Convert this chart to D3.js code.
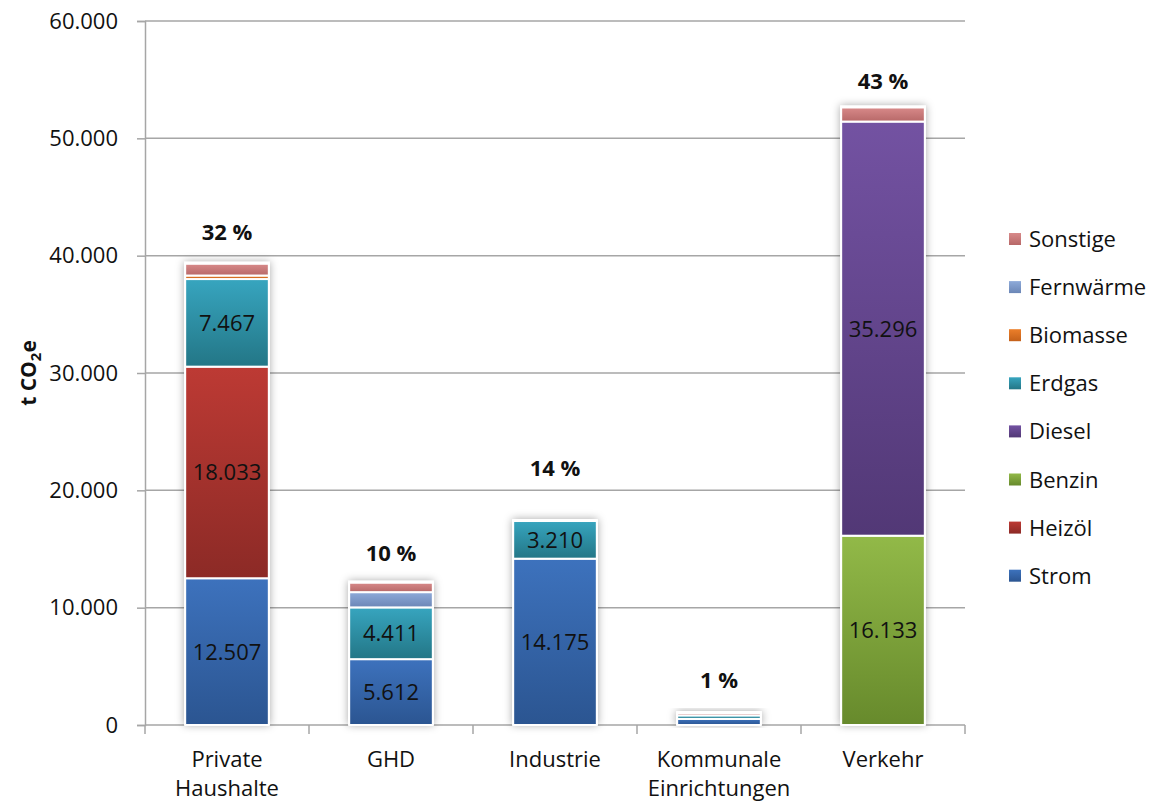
<!DOCTYPE html>
<html><head><meta charset="utf-8">
<script src="https://cdn.jsdelivr.net/npm/d3@7"></script>
<style>body{margin:0;background:#fff;font-family:"Open Sans",Calibri,sans-serif;}</style>
</head><body><svg id="c" width="1162" height="806"></svg>
<script>
const categories = ["Private Haushalte","GHD","Industrie","Kommunale Einrichtungen","Verkehr"];
const categoryLines = [["Private","Haushalte"],["GHD"],["Industrie"],["Kommunale","Einrichtungen"],["Verkehr"]];
const seriesNames = ["Strom","Heizöl","Benzin","Diesel","Erdgas","Biomasse","Fernwärme","Sonstige"];
const strom     = [12507, 5612, 14175, 520, 0];
const heizoel   = [18033, 0, 0, 0, 0];
const benzin    = [0, 0, 0, 0, 16133];
const diesel    = [0, 0, 0, 0, 35296];
const erdgas    = [7467, 4411, 3210, 300, 0];
const biomasse  = [300, 0, 0, 0, 0];
const fernwaerme= [0, 1300, 0, 0, 0];
const sonstige  = [1000, 800, 0, 200, 1200];
const percentLabels = ["32 %","10 %","14 %","1 %","43 %"];
const percentLabelY = [42000, 14650, 21900, 3850, 54900];
const legendOrder = ["Sonstige","Fernwärme","Biomasse","Erdgas","Diesel","Benzin","Heizöl","Strom"];
const yTicks = [0,10000,20000,30000,40000,50000,60000];
const showValues = ["Strom","Heizöl","Benzin","Diesel","Erdgas"];

const colors = {
  "Strom":["#3d72bd","#2b5591"],
  "Heizöl":["#bd3a34","#8c2a26"],
  "Benzin":["#92b948","#678a2c"],
  "Diesel":["#7352a2","#523876"],
  "Erdgas":["#37a5bf","#237686"],
  "Biomasse":["#ec7f2a","#c4611a"],
  "Fernwärme":["#8eaad9","#6b86b6"],
  "Sonstige":["#d88a8a","#b76868"]
};
const seriesData = {"Strom":strom,"Heizöl":heizoel,"Benzin":benzin,"Diesel":diesel,"Erdgas":erdgas,"Biomasse":biomasse,"Fernwärme":fernwaerme,"Sonstige":sonstige};
const FS = 22;

const svg = d3.select("#c");
const defs = svg.append("defs");
seriesNames.forEach((s,i)=>{
  const g = defs.append("linearGradient").attr("id","g"+i).attr("x1",0).attr("y1",0).attr("x2",0).attr("y2",1);
  g.append("stop").attr("offset","0%").attr("stop-color",colors[s][0]);
  g.append("stop").attr("offset","100%").attr("stop-color",colors[s][1]);
});
const f = defs.append("filter").attr("id","sh").attr("x","-20%").attr("y","-20%").attr("width","140%").attr("height","140%");
f.append("feDropShadow").attr("dx",0).attr("dy",0).attr("stdDeviation",4).attr("flood-color","#000").attr("flood-opacity",0.35);

const pLeft=145, pRight=965, pTop=21, pBottom=725;
const x = d3.scaleBand().domain(categories).range([pLeft,pRight]).paddingInner(0.49).paddingOuter(0.245);
const y = d3.scaleLinear().domain([0,60000]).range([pBottom,pTop]);

svg.append("g").selectAll("line").data(yTicks.slice(1)).join("line")
  .attr("x1",pLeft).attr("x2",pRight).attr("y1",d=>y(d)).attr("y2",d=>y(d))
  .attr("stroke","#a6a6a6").attr("stroke-width",1.5);

const yAxis = d3.axisLeft(y).tickValues(yTicks).tickSize(8).tickPadding(19)
  .tickFormat(d=>d3.format(",")(d).replace(/,/g,"."));
const ya = svg.append("g").attr("transform",`translate(${pLeft},0)`).call(yAxis);
ya.select(".domain").attr("stroke","#a6a6a6").attr("stroke-width",1.5);
ya.selectAll(".tick line").attr("stroke","#a6a6a6").attr("stroke-width",1.5);
ya.selectAll("text").attr("font-size",FS).attr("fill","#111").attr("font-family","'Open Sans',sans-serif");

svg.append("line").attr("x1",pLeft).attr("x2",pRight).attr("y1",pBottom).attr("y2",pBottom).attr("stroke","#a6a6a6").attr("stroke-width",1.5);
const tickXs = d3.range(categories.length+1).map(i=>pLeft+i*(pRight-pLeft)/categories.length);
svg.append("g").selectAll("line").data(tickXs).join("line")
  .attr("x1",d=>d).attr("x2",d=>d).attr("y1",pBottom).attr("y2",pBottom+9).attr("stroke","#a6a6a6").attr("stroke-width",1.5);
categories.forEach((c,i)=>{
  const t = svg.append("text").attr("x",x(c)+x.bandwidth()/2).attr("y",767).attr("text-anchor","middle")
    .attr("font-size",FS).attr("fill","#111");
  categoryLines[i].forEach((ln,j)=>t.append("tspan").attr("x",x(c)+x.bandwidth()/2).attr("dy",j?29:0).text(ln));
});

const table = categories.map((c,i)=>{const o={cat:c}; seriesNames.forEach(s=>o[s]=seriesData[s][i]); return o;});
const stack = d3.stack().keys(seriesNames)(table);

const totals = table.map(r=>d3.sum(seriesNames,s=>r[s]));
svg.append("g").selectAll("rect").data(table).join("rect")
  .attr("x",d=>x(d.cat)-1).attr("width",x.bandwidth()+2)
  .attr("y",(d,i)=>y(totals[i])-2).attr("height",(d,i)=>y(0)-y(totals[i])+2)
  .attr("fill","#fff").attr("filter","url(#sh)");

stack.forEach((layer,si)=>{
  svg.append("g").selectAll("rect").data(layer.filter(d=>d[1]-d[0]>0)).join("rect")
    .attr("x",d=>x(d.data.cat)).attr("width",x.bandwidth())
    .attr("y",d=>y(d[1])).attr("height",d=>y(d[0])-y(d[1]))
    .attr("fill",`url(#g${si})`).attr("stroke","#fff").attr("stroke-width",2);
});
stack.forEach((layer,si)=>{
  if(!showValues.includes(layer.key)) return;
  svg.append("g").selectAll("text").data(layer.filter(d=>d[1]-d[0]>2000)).join("text")
    .attr("x",d=>x(d.data.cat)+x.bandwidth()/2).attr("y",d=>y((d[0]+d[1])/2)+8)
    .attr("text-anchor","middle").attr("font-size",FS).attr("fill","#111")
    .text(d=>d3.format(",")(d[1]-d[0]).replace(/,/g,"."));
});
svg.append("g").selectAll("text").data(categories).join("text")
  .attr("x",d=>x(d)+x.bandwidth()/2).attr("y",(d,i)=>y(percentLabelY[i])+8)
  .attr("text-anchor","middle").attr("font-size",22).attr("font-weight","bold").attr("fill","#111")
  .text((d,i)=>percentLabels[i]);

const yl = svg.append("text").attr("transform","translate(36,373) rotate(-90)").attr("text-anchor","middle")
  .attr("font-size",21).attr("font-weight","bold").attr("fill","#111");
yl.append("tspan").text("t CO");
yl.append("tspan").attr("font-size",15).attr("dy",5).text("2");
yl.append("tspan").attr("dy",-5).text("e");

const lg = svg.append("g").selectAll("g").data(legendOrder).join("g")
  .attr("transform",(d,i)=>`translate(1009,${239+i*48.1})`);
lg.append("rect").attr("x",0).attr("y",-6).attr("width",12).attr("height",12)
  .attr("fill",d=>`url(#g${seriesNames.indexOf(d)})`);
lg.append("text").attr("x",20).attr("y",8).attr("font-size",FS).attr("fill","#111").text(d=>d);
</script></body></html>
